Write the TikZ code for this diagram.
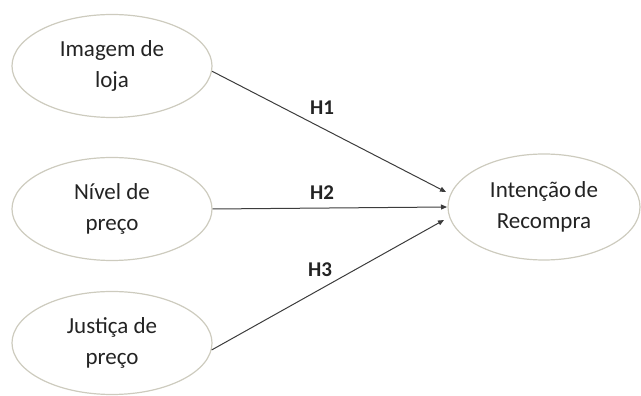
\documentclass[tikz,border=0pt]{standalone}
\usepackage{fontspec}
\setmainfont{Carlito}
\usetikzlibrary{shapes.geometric,arrows.meta}
\definecolor{elline}{RGB}{205,203,190}
\definecolor{arrcol}{RGB}{60,60,60}
\definecolor{txtcol}{RGB}{35,35,35}
\tikzset{
  construct/.style={ellipse,draw=elline,line width=1.2pt,minimum width=200pt,minimum height=103pt,align=center,font=\fontsize{23}{31}\selectfont,text=txtcol,inner sep=0pt},
  hyp/.style={draw=arrcol,line width=1pt,-{Triangle[length=6pt,width=5pt]}},
  hlabel/.style={font=\fontsize{21}{22}\selectfont\bfseries,text=txtcol}
}
\begin{document}
\begin{tikzpicture}[x=1pt,y=1pt]
\useasboundingbox (0,0) rectangle (641,396);
\node[construct] (a) at (112,330) {Imagem de\\loja};
\node[construct] (b) at (112,187) {Nível de\\preço};
\node[construct] (c) at (112,53) {Justiça de\\preço};
\node[construct,minimum width=192pt,minimum height=106pt] (t) at (544,189) {Intenção\hspace{-2pt} de\\Recompra};
\coordinate (e1) at (446,204);
\coordinate (e2) at (447,189);
\coordinate (e3) at (444,176);
\draw[hyp] (a.-3) -- (e1);
\draw[hyp] (b.east) -- (e2);
\draw[hyp] (c.-4) -- (e3);
\node[hlabel] (h1) at (322,288) {H1};
\node[hlabel] (h2) at (322,203) {H2};
\node[hlabel] (h3) at (320,126) {H3};
\end{tikzpicture}
\end{document}
